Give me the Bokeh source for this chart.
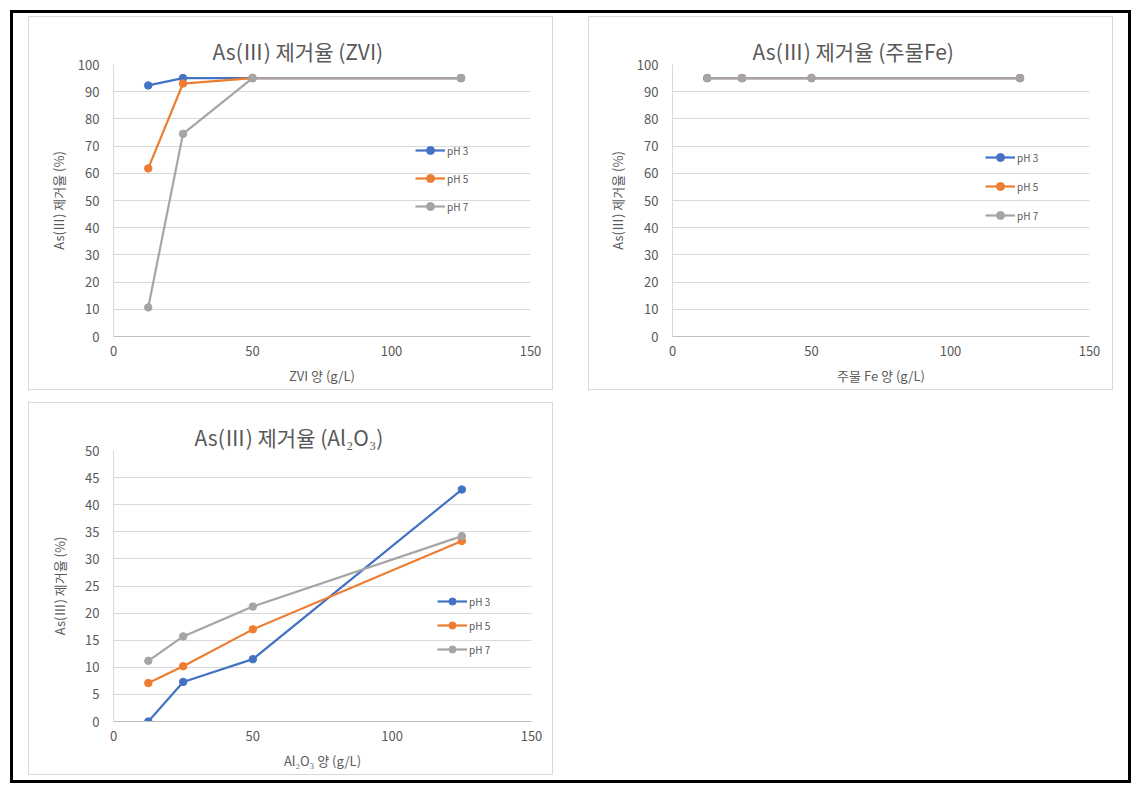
from bokeh.plotting import figure
from bokeh.models import Range1d, Legend, LegendItem, FixedTicker, Title
from bokeh.layouts import column, row
from bokeh.embed import file_html
from bokeh.resources import INLINE

# ---------------- data ----------------
dose = [12.5, 25, 50, 125]
series_names = ["pH 3", "pH 5", "pH 7"]
series_colors = ["#4472C4", "#ED7D31", "#A5A5A5"]

zvi_ph3 = [92.3, 95.0, 95.0, 95.0]
zvi_ph5 = [61.8, 93.0, 95.0, 95.0]
zvi_ph7 = [10.7, 74.5, 95.0, 95.0]

fe_ph3 = [95.0, 95.0, 95.0, 95.0]
fe_ph5 = [95.0, 95.0, 95.0, 95.0]
fe_ph7 = [95.0, 95.0, 95.0, 95.0]

al_ph3 = [0.0, 7.3, 11.5, 42.8]
al_ph5 = [7.1, 10.2, 17.0, 33.3]
al_ph7 = [11.2, 15.7, 21.2, 34.2]

x_ticks = [0, 50, 100, 150]
y_ticks_100 = [0, 10, 20, 30, 40, 50, 60, 70, 80, 90, 100]
y_ticks_50 = [0, 5, 10, 15, 20, 25, 30, 35, 40, 45, 50]

titles = ["As(Ⅲ) 제거율 (ZVI)", "As(Ⅲ) 제거율 (주물Fe)", "As(Ⅲ) 제거율 (Al₂O₃)"]
x_labels = ["ZVI 양 (g/L)", "주물 Fe 양 (g/L)", "Al₂O₃ 양 (g/L)"]
y_label = "As(Ⅲ) 제거율 (%)"

FONT = "Noto Sans CJK KR"
TXT = "#595959"


def make_panel(title, xlabel, series, yticks, ymax, borders, title_off,
               leg_loc, leg_gh, leg_sp, ylab_standoff, margin, height):
    left, right, top, bottom = borders
    p = figure(width=523, height=height - 2, output_backend="svg", toolbar_location=None,
               x_range=Range1d(0, 150), y_range=Range1d(0, ymax),
               min_border_left=left - 1, min_border_right=right - 1,
               min_border_top=top - 1, min_border_bottom=bottom - 1,
               background_fill_color="white", border_fill_color="white",
               margin=(1, 1, 1, 1))
    p.outline_line_color = None
    p.xgrid.grid_line_color = None
    p.ygrid.grid_line_color = "#D9D9D9"
    p.ygrid.grid_line_width = 1

    p.xaxis.ticker = FixedTicker(ticks=x_ticks)
    p.yaxis.ticker = FixedTicker(ticks=yticks)
    for ax in (p.xaxis[0], p.yaxis[0]):
        ax.major_tick_in = 0
        ax.major_tick_out = 0
        ax.minor_tick_in = 0
        ax.minor_tick_out = 0
        ax.major_label_text_font = FONT
        ax.major_label_text_font_size = "13px"
        ax.major_label_text_color = TXT
        ax.axis_label_text_font = FONT
        ax.axis_label_text_font_size = "13px"
        ax.axis_label_text_font_style = "normal"
        ax.axis_label_text_color = TXT
    p.xaxis.axis_line_color = "#BFBFBF"
    p.yaxis.axis_line_color = "#D9D9D9"
    p.xaxis.major_label_standoff = 9
    p.yaxis.major_label_standoff = 14
    p.xaxis.axis_label = xlabel
    p.yaxis.axis_label = y_label
    p.xaxis.axis_label_standoff = 7
    p.yaxis.axis_label_standoff = ylab_standoff

    items = []
    for name, color, vals in zip(series_names, series_colors, series):
        r1 = p.line(dose, vals, line_color=color, line_width=2.2)
        r2 = p.scatter(dose, vals, marker="circle", size=7.5,
                       fill_color=color, line_color=color)
        items.append(LegendItem(label=name, renderers=[r1, r2]))

    legend = Legend(items=items, location=leg_loc, orientation="vertical",
                    background_fill_alpha=0, border_line_color=None,
                    label_text_font=FONT, label_text_font_size="10px",
                    label_text_color=TXT, glyph_width=30, glyph_height=leg_gh,
                    label_height=leg_gh, spacing=leg_sp, padding=0, margin=0,
                    label_standoff=2)
    p.add_layout(legend, "center")

    p.title = Title(text=title, align="left", offset=title_off, standoff=-3,
                    text_font=FONT, text_font_size="21px", text_font_style="normal",
                    text_color=TXT)

    box = column(p, margin=margin,
                 styles={"outline": "1px solid #D9D9D9", "outline-offset": "-1px",
                         "background": "white"})
    return box


b1 = make_panel(titles[0], x_labels[0], [zvi_ph3, zvi_ph5, zvi_ph7], y_ticks_100, 100,
                (85, 23, 48, 54), 99, (302, 120), 20, 8, 7,
                (6, 0, 0, 18), 374)
b2 = make_panel(titles[1], x_labels[1], [fe_ph3, fe_ph5, fe_ph7], y_ticks_100, 100,
                (84, 24, 48, 54), 80, (313, 111), 20, 9, 7,
                (6, 18, 0, 35), 374)
b3 = make_panel(titles[2], x_labels[2], [al_ph3, al_ph5, al_ph7], y_ticks_50, 50,
                (85, 22, 48, 54), 81, (324, 63), 18, 6, 13,
                (12, 0, 8, 18), 373)

layout = column(row(b1, b2), b3, margin=(10, 0, 0, 10),
                styles={"outline": "3px solid black", "outline-offset": "-3px",
                        "background": "white"})

open("out.html", "w").write(file_html(layout, INLINE))
